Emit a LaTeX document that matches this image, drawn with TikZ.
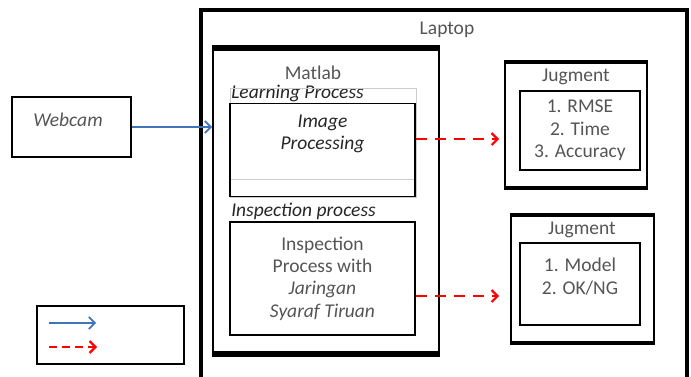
\documentclass[tikz,border=0pt]{standalone}
\usepackage{fontspec}
\setmainfont{Carlito}
\usetikzlibrary{arrows.meta,positioning}
\definecolor{txtgray}{HTML}{555555}
\definecolor{arrblue}{HTML}{3F74BA}

\begin{document}
\begin{tikzpicture}[>={Straight Barb[length=6pt,width=12pt]},x=1pt,y=-1pt,
    font=\fontsize{19.5}{22.3}\selectfont]
  \tikzstyle{box}=[draw,line width=1.8pt,align=center,inner sep=0pt,text=txtgray]
  \tikzstyle{lbl}=[text=txtgray,inner sep=0pt]
  \tikzstyle{itlbl}=[font=\fontsize{19.5}{22.3}\selectfont\itshape,text=black!85,inner sep=0pt]
  \tikzstyle{bar}=[line width=6pt]
  \useasboundingbox (0,0) rectangle (691,376);
  % laptop frame, runs off the bottom
  \node[draw,line width=4pt,minimum width=486pt,minimum height=400pt] (laptop) at (443.5,210) {};
  \node[lbl] (laptoplbl) at (447,30) {Laptop};
  % matlab block
  \node[box,minimum width=226pt,minimum height=310pt] (matlab) at (326,201) {};
  \draw[bar] ([yshift=-3pt]matlab.north west) -- ([yshift=-3pt]matlab.north east);
  \draw[bar] ([yshift=3pt]matlab.south west) -- ([yshift=3pt]matlab.south east);
  \node[lbl] (matlablbl) at (313,73) {Matlab};
  \node[itlbl] (learnlbl) at (297.5,93) {Learning Process};
  \draw[black!20,line width=0.6pt] (230,88) rectangle (416,197);
  \draw[black!20,line width=0.6pt] (230,179) -- (416,179);
  \node[box,minimum width=185pt,minimum height=93pt,
    label={[itlbl,align=center,yshift=16pt]center:Image\\Processing}] (imgproc) at (322.5,150) {};
  \node[itlbl] (insplbl) at (303.5,211) {Inspection process};
  \node[box,minimum width=185pt,minimum height=113pt] (insp) at (322.5,278.5)
    {Inspection\\Process with\\\textit{Jaringan}\\\textit{Syaraf Tiruan}};
  % judgment blocks
  \node[box,minimum width=142pt,minimum height=128pt] (jug1) at (576,125) {};
  \draw[line width=4.5pt] ([yshift=-2pt]jug1.north west) -- ([yshift=-2pt]jug1.north east);
  \draw[line width=4.5pt] ([yshift=2pt]jug1.south west) -- ([yshift=2pt]jug1.south east);
  \node[lbl] (jug1lbl) at (576,77) {Jugment};
  \node[box,line width=1.4pt,minimum width=120pt,minimum height=79pt] (res1) at (580,130.5)
    {1. RMSE\\2. Time\\3. Accuracy};
  \node[box,minimum width=143pt,minimum height=130pt] (jug2) at (582.5,279) {};
  \draw[line width=4.5pt] ([yshift=-2pt]jug2.north west) -- ([yshift=-2pt]jug2.north east);
  \draw[line width=4.5pt] ([yshift=2pt]jug2.south west) -- ([yshift=2pt]jug2.south east);
  \node[lbl] (jug2lbl) at (582,230) {Jugment};
  \node[box,line width=1.4pt,minimum width=120pt,minimum height=82pt,
    label={[lbl,align=center,yshift=7.5pt]center:1. Model\\2. OK/NG}] (res2) at (580,284) {};
  % camera input
  \node[box,minimum width=119pt,minimum height=60pt] (webcam) at (71.5,127) {};
  \node[itlbl,text=txtgray] (webcamlbl) at (68,120) {Webcam};
  \draw[arrblue,line width=1.8pt,->] (webcam.east) -- (webcam.east -| matlab.west);
  \draw[red,line width=2.2pt,dash pattern=on 11pt off 8pt,->,shorten >=5pt]
    ([yshift=11pt]imgproc.east) -- ([yshift=11pt]imgproc.east -| jug1.west);
  \draw[red,line width=2.2pt,dash pattern=on 11pt off 8pt,->,shorten >=11pt]
    ([yshift=-17.5pt]insp.east) -- ([yshift=-17.5pt]insp.east -| jug2.west);
  % legend
  \node[box,minimum width=147pt,minimum height=58pt] (legend) at (110.5,335) {};
  \coordinate (b1) at ([xshift=13pt,yshift=12pt]legend.west);
  \coordinate (b2) at ([xshift=60pt,yshift=12pt]legend.west);
  \coordinate (r1) at ([xshift=13pt,yshift=-12pt]legend.west);
  \coordinate (r2) at ([xshift=61pt,yshift=-12pt]legend.west);
  \draw[arrblue,line width=1.8pt,->] (b1) -- (b2);
  \draw[red,line width=2.2pt,dash pattern=on 8pt off 5pt,->] (r1) -- (r2);
\end{tikzpicture}
\end{document}
